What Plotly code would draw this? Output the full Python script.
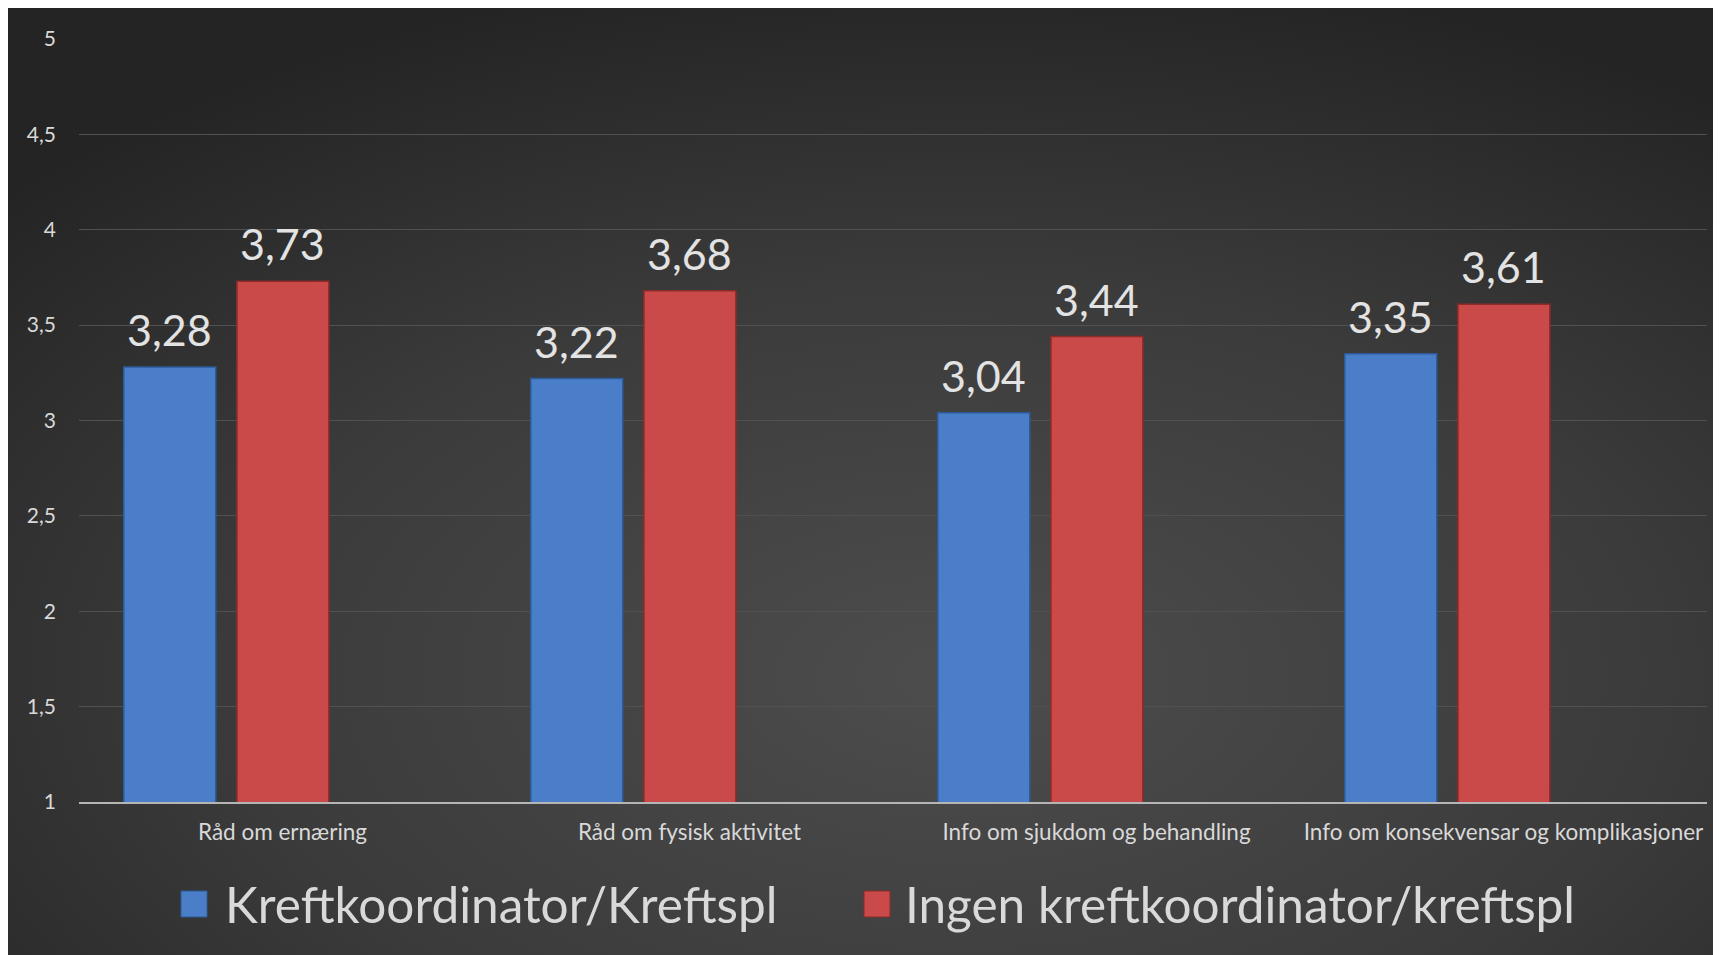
import base64
import plotly.graph_objects as go

categories = ["Råd om ernæring", "Råd om fysisk aktivitet",
              "Info om sjukdom og behandling", "Info om konsekvensar og komplikasjoner"]
series_names = ["Kreftkoordinator/Kreftspl", "Ingen kreftkoordinator/kreftspl"]
with_coord = [3.28, 3.22, 3.04, 3.35]
without_coord = [3.73, 3.68, 3.44, 3.61]
tick_vals = [1, 1.5, 2, 2.5, 3, 3.5, 4, 4.5, 5]

W, H = 1721, 955
L, T = 71, 31
R = W - 1699
B = H - 794
PW = W - L - R
PH = H - T - B

def px_x(p):
    return (p - L) / PW

def px_y(p):
    return (H - B - p) / PH

FONT = "Lato"
TXT = "#d9d9d9"
BLUE = "#4a7ec8"
RED = "#c94a48"

svg = f'''<svg xmlns="http://www.w3.org/2000/svg" width="{W}" height="{H}" viewBox="0 0 {W} {H}" preserveAspectRatio="none">
<defs><radialGradient id="g" cx="0.55" cy="0.7" r="0.75" gradientUnits="objectBoundingBox">
<stop offset="0" stop-color="#4d4d4d"/><stop offset="0.55" stop-color="#3b3b3b"/><stop offset="1" stop-color="#242424"/></radialGradient></defs>
<rect x="0" y="0" width="{W}" height="{H}" fill="url(#g)"/></svg>'''
bg_uri = "data:image/svg+xml;base64," + base64.b64encode(svg.encode()).decode()

fig = go.Figure()
offsets = [-0.39, -0.112]
width = 0.226
colors = [BLUE, RED]
lines = ["#2d5b9c", "#8e2a28"]
for name, vals, off, col, lc in zip(series_names, [with_coord, without_coord], offsets, colors, lines):
    fig.add_trace(go.Bar(
        x=categories, y=vals, name=name, offset=off, width=width,
        marker=dict(color=col, line=dict(color=lc, width=1.5)),
        showlegend=False, hoverinfo="x+y",
    ))

annotations = []
for vals, off in zip([with_coord, without_coord], offsets):
    for i, v in enumerate(vals):
        annotations.append(dict(
            x=i + off + width / 2, y=v, xref="x", yref="y",
            text=f"{v:.2f}".replace(".", ","), showarrow=False,
            yanchor="bottom", yshift=10,
            font=dict(family=FONT, size=43, color="#e3e3e3"),
        ))

# manual legend
legend_items = [(173, 215), (856, 895)]
shapes = []
for (sq_x, tx), name, col, lc in zip(legend_items, series_names, colors, lines):
    shapes.append(dict(type="rect", xref="paper", yref="paper",
                       x0=px_x(sq_x), x1=px_x(sq_x + 26), y0=px_y(909), y1=px_y(883),
                       fillcolor=col, line=dict(color=lc, width=1)))
    annotations.append(dict(x=px_x(tx), y=px_y(896), xref="paper", yref="paper",
                            xanchor="left", yanchor="middle", showarrow=False,
                            text=name, font=dict(family=FONT, size=49.5, color=TXT)))

fig.update_layout(
    width=W, height=H,
    margin=dict(l=L, r=R, t=T, b=B),
    paper_bgcolor="#2a2a2a",
    plot_bgcolor="rgba(0,0,0,0)",
    separators=",.",
    font=dict(family=FONT, color=TXT),
    images=[dict(source=bg_uri, xref="paper", yref="paper",
                 x=px_x(0), y=px_y(0), sizex=W / PW, sizey=H / PH,
                 xanchor="left", yanchor="top", sizing="stretch", layer="below")],
    annotations=annotations,
    shapes=shapes,
    showlegend=False,
)
fig.update_xaxes(
    type="category", range=[-0.5, len(categories) - 0.5],
    showgrid=False, showline=True, linecolor="#b5b5b5", linewidth=2,
    ticks="", tickfont=dict(family=FONT, size=22.5, color=TXT),
    ticklabelstandoff=9,
)
fig.update_yaxes(
    range=[1, 5], tickvals=tick_vals,
    showgrid=True, gridcolor="#515151", gridwidth=1,
    zeroline=False, showline=False, ticks="",
    tickfont=dict(family=FONT, size=21, color=TXT),
    ticklabelstandoff=22,
)
fig.write_html("out.html")
